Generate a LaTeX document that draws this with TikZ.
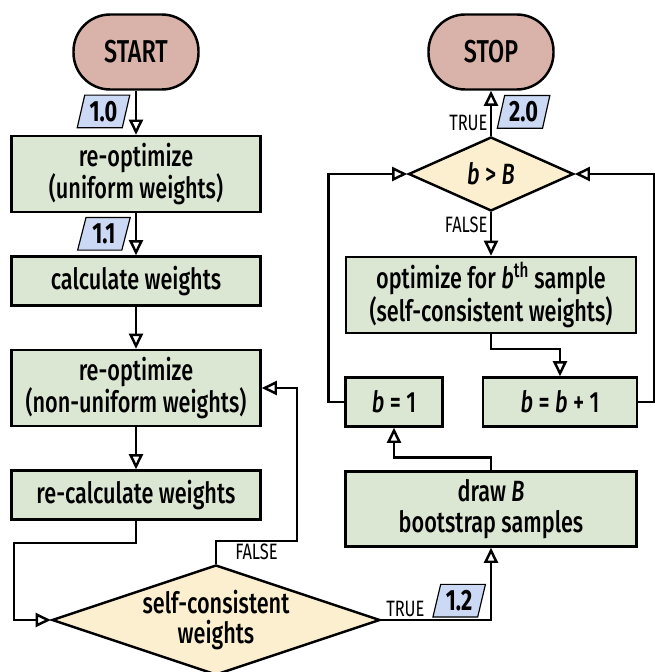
\documentclass[tikz,border=0pt]{standalone}
\usepackage{fontspec}
\setmainfont{Fira Sans Medium}[FakeStretch=0.74, ItalicFont=Fira Sans Medium Italic, BoldFont=Fira Sans Bold]
\newfontfamily\lightfont{Fira Sans}[FakeStretch=0.74]
\usepackage{xcolor}
\usetikzlibrary{shapes.geometric, arrows.meta, positioning}
\definecolor{termfill}{HTML}{D9B3AA}
\definecolor{procfill}{HTML}{DCE7D3}
\definecolor{decfill}{HTML}{FBEFCF}
\definecolor{tagfill}{HTML}{CCD9F5}
\tikzstyle{startstop} = [rectangle, rounded corners=1.1cm, minimum width=3.75cm, minimum height=2.25cm, text centered, draw=black, fill=termfill, font=\fontsize{27}{30}\selectfont]
\tikzstyle{process} = [rectangle, minimum width=7.47cm, minimum height=1.47cm, align=center, draw=black, fill=procfill]
\tikzstyle{decision} = [diamond, inner sep=0pt, align=center, draw=black, fill=decfill]
\tikzstyle{tagbox} = [trapezium, trapezium left angle=75, trapezium right angle=105, trapezium stretches=true, minimum width=1.58cm, minimum height=0.98cm, inner sep=0pt, draw=black, line width=1pt, fill=tagfill, font=\bfseries\fontsize{25}{26}\selectfont]
\tikzstyle{branch} = [font=\lightfont\fontsize{19}{20}\selectfont, inner sep=2pt]
\tikzstyle{arrow} = [line width=2.1pt, -{Triangle[open, length=13pt, width=12pt]}]

\begin{document}
\begin{tikzpicture}[node distance=3.21cm, line width=2.1pt, font=\fontsize{25}{26}\selectfont]
    \useasboundingbox (0,0) rectangle (19.62,-20.16);
    % left column
    \node (start) [startstop] at (4.08,-1.56) {START};
    \node (init) [process, below of=start, yshift=-0.45cm, minimum height=2.28cm] {re-optimize\\(uniform weights)};
    \node (calc) [process, below of=init] {calculate weights};
    \node (reopt) [process, below of=calc, minimum height=2.28cm] {re-optimize\\(non-uniform weights)};
    \node (recalc) [process, below of=reopt] {re-calculate weights};
    \node (check) [decision, below of=recalc, xshift=2.4cm, yshift=-0.54cm, aspect=3, minimum width=9.84cm, minimum height=3.3cm] {self-consistent\\weights};
    % right column
    \node (stop) [startstop] at (14.73,-1.56) {STOP};
    \node (cond) [decision, below of=stop, yshift=-0.45cm, aspect=2.2, minimum width=4.95cm, minimum height=2.22cm] {\textit{b} > \textit{B}};
    \node (optim) [process, below of=cond, yshift=-0.42cm, minimum width=8.7cm, minimum height=2.28cm] {optimize for \textit{b}\textsuperscript{th} sample\\(self-consistent weights)};
    \node (bone) [process, below of=optim, xshift=-2.91cm, minimum width=2.91cm] {\textit{b} = 1};
    \node (binc) [process, below of=optim, xshift=2.07cm, minimum width=4.62cm] {\textit{b} = \textit{b} + 1};
    \node (draw) [process, below of=bone, xshift=2.91cm, minimum width=8.73cm, minimum height=2.25cm] {draw \textit{B}\\bootstrap samples};

    \draw [arrow] (start) -- node[tagbox, pos=0.47, left=8pt] {1.0} (init);
    \draw [arrow] (init) -- node[tagbox, pos=0.49, left=8pt] {1.1} (calc);
    \draw [arrow] (calc) -- (reopt);
    \draw [arrow] (reopt) -- (recalc);
    \draw [arrow] (recalc.south) -- ++(0,-0.66) -| ([xshift=-1.11cm]check.west) -- (check.west);
    \draw [arrow] (check.north) -- ++(0,0.69) -- node[branch, below] {FALSE} ++(2.43,0) |- (reopt.east);
    \draw [arrow] (check.east) -- node[branch, pos=0.22, above] {TRUE} node[tagbox, pos=0.71, above=2pt] {1.2} (check.east -| draw.south) -- (draw.south);
    \draw [arrow] (draw.north) -- ++(0,0.39) -| (bone.south);
    \draw [arrow] (bone.west) -- ++(-0.48,0) |- (cond.west);
    \draw [arrow] (binc.east) -- ++(0.48,0) |- (cond.east);
    \draw [arrow] (optim.south) -- ++(0,-0.45) -| (binc.north);
    \draw [arrow] (cond.south) -- node[branch, pos=0.3, left] {FALSE} (optim.north);
    \draw [arrow] (cond.north) -- node[branch, pos=0.28, left] {TRUE} node[tagbox, pos=0.53, right=8pt] {2.0} (stop.south);
\end{tikzpicture}
\end{document}
